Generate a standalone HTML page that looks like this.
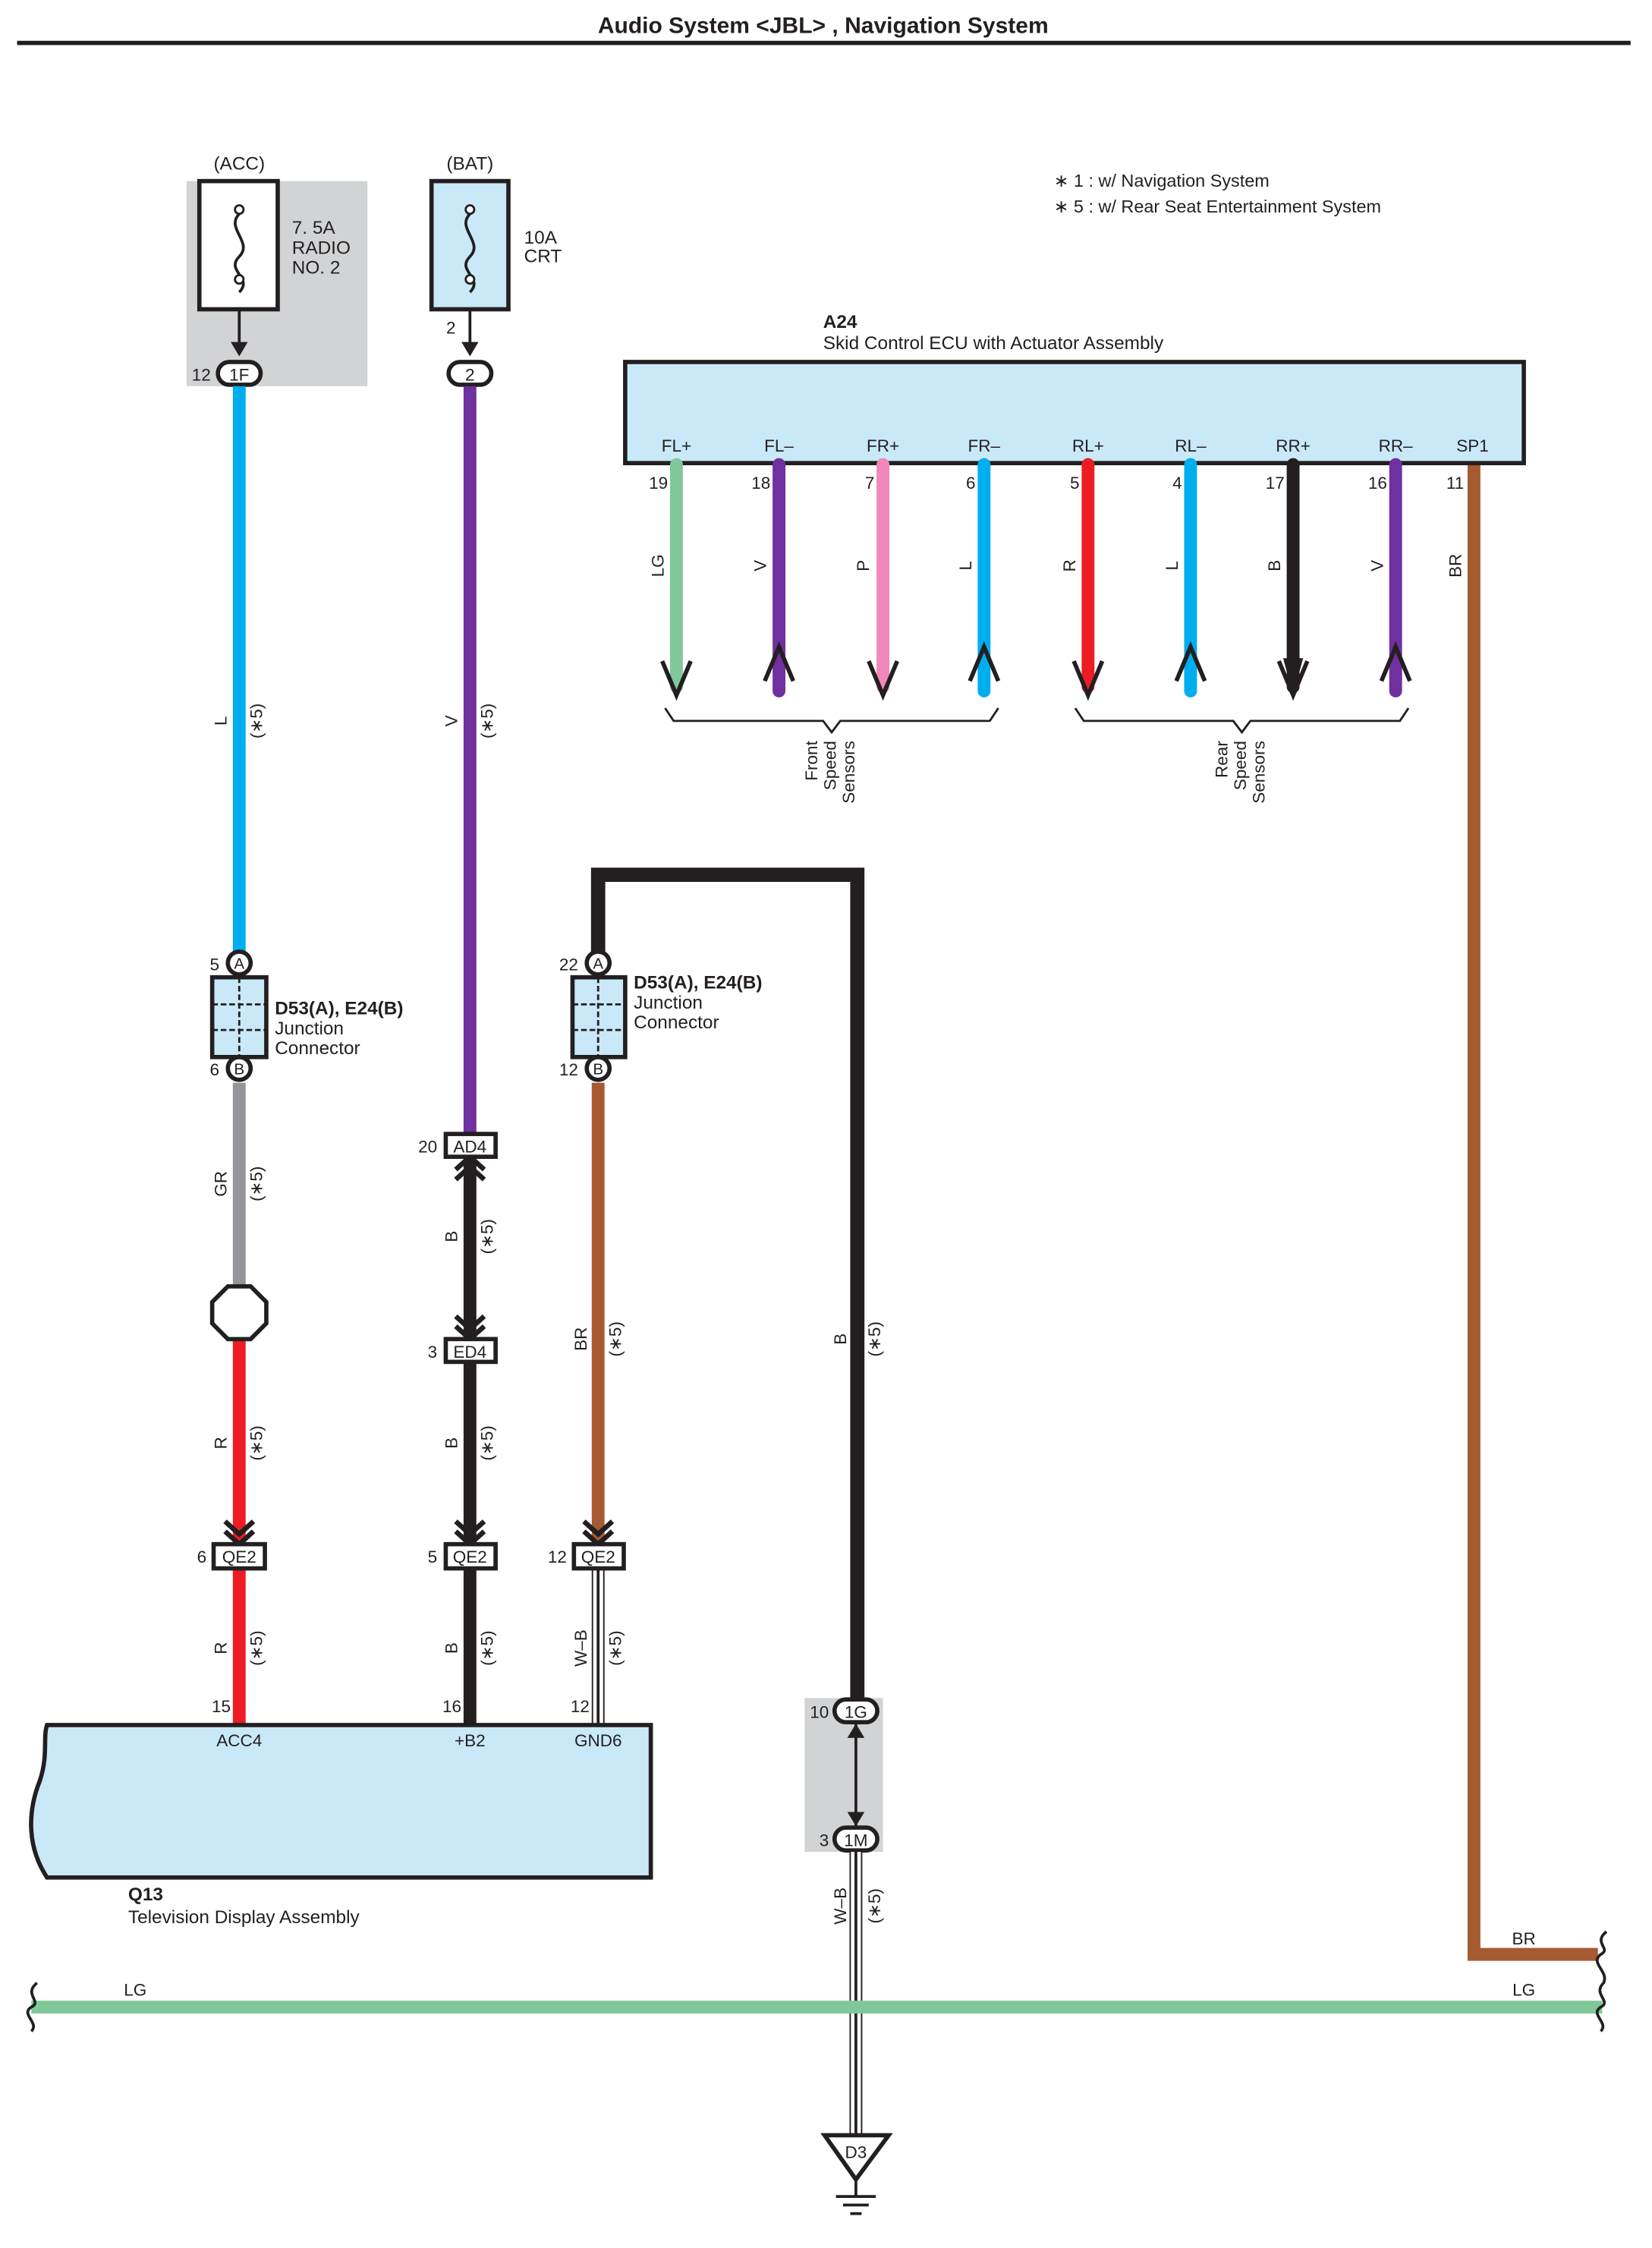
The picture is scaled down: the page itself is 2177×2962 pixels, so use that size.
<!DOCTYPE html>
<html><head><meta charset="utf-8"><style>
html,body{margin:0;padding:0;background:#fff}
svg{display:block}
text{font-family:"Liberation Sans",Arial,sans-serif;fill:#231f20}
</style></head><body>
<svg width="2177" height="2962" viewBox="0 0 1160 1578" xmlns="http://www.w3.org/2000/svg">
<defs>
<g id="cd"><polyline points="-10,-15 0,-6 10,-15" fill="none" stroke="#231f20" stroke-width="3.5"/><polyline points="-10,-8 0,1 10,-8" fill="none" stroke="#231f20" stroke-width="3.5"/></g>
</defs>
<text x="578" y="23" font-size="16" font-weight="bold" text-anchor="middle">Audio System &lt;JBL&gt; , Navigation System</text>
<line x1="12" y1="30" x2="1145" y2="30" stroke="#231f20" stroke-width="3"/>

<text x="740" y="131" font-size="12.5">∗ 1 : w/ Navigation System</text>
<text x="740" y="149" font-size="12.5">∗ 5 : w/ Rear Seat Entertainment System</text>

<!-- ACC fuse -->
<rect x="131" y="127" width="127" height="144" fill="#d1d3d4"/>
<text x="168" y="119" font-size="13" text-anchor="middle">(ACC)</text>
<rect x="140" y="127" width="55" height="90" fill="#fff" stroke="#231f20" stroke-width="3"/>
<path d="M168,150 C158,160 178,170 168,180 C158,190 178,195 168,205" fill="none" stroke="#231f20" stroke-width="2"/>
<circle cx="168" cy="147" r="3" fill="#fff" stroke="#231f20" stroke-width="1.5"/>
<circle cx="168" cy="196" r="3" fill="#fff" stroke="#231f20" stroke-width="1.5"/>
<line x1="168" y1="217" x2="168" y2="248" stroke="#231f20" stroke-width="2"/>
<polygon points="162,240 174,240 168,250" fill="#231f20"/>
<text x="205" y="164" font-size="13">7. 5A</text>
<text x="205" y="178" font-size="13">RADIO</text>
<text x="205" y="192" font-size="13">NO. 2</text>
<rect x="153" y="254" width="30" height="16" rx="8" fill="#fff" stroke="#231f20" stroke-width="3"/>
<text x="168" y="267" font-size="12" text-anchor="middle">1F</text>
<text x="148" y="267" font-size="12" text-anchor="end">12</text>

<!-- BAT fuse -->
<text x="330" y="119" font-size="13" text-anchor="middle">(BAT)</text>
<rect x="303" y="127" width="54" height="90" fill="#c9e9f9" stroke="#231f20" stroke-width="3"/>
<path d="M330,150 C320,160 340,170 330,180 C320,190 340,195 330,205" fill="none" stroke="#231f20" stroke-width="2"/>
<circle cx="330" cy="147" r="3" fill="#fff" stroke="#231f20" stroke-width="1.5"/>
<circle cx="330" cy="196" r="3" fill="#fff" stroke="#231f20" stroke-width="1.5"/>
<line x1="330" y1="217" x2="330" y2="248" stroke="#231f20" stroke-width="2"/>
<polygon points="324,240 336,240 330,250" fill="#231f20"/>
<text x="368" y="171" font-size="13">10A</text>
<text x="368" y="184" font-size="13">CRT</text>
<text x="320" y="234" font-size="12" text-anchor="end">2</text>
<rect x="315" y="254" width="30" height="16" rx="8" fill="#fff" stroke="#231f20" stroke-width="3"/>
<text x="330" y="267" font-size="12" text-anchor="middle">2</text>

<!-- wires column 1 -->
<line x1="168" y1="271" x2="168" y2="668" stroke="#00aeef" stroke-width="9"/>
<line x1="168" y1="760" x2="168" y2="903" stroke="#939598" stroke-width="9"/>
<line x1="168" y1="939" x2="168" y2="1084" stroke="#ed1c24" stroke-width="9"/>
<line x1="168" y1="1101" x2="168" y2="1211" stroke="#ed1c24" stroke-width="9"/>
<!-- column 2 -->
<line x1="330" y1="271" x2="330" y2="796" stroke="#7030a0" stroke-width="9"/>
<line x1="330" y1="812" x2="330" y2="940" stroke="#231f20" stroke-width="9"/>
<line x1="330" y1="956" x2="330" y2="1084" stroke="#231f20" stroke-width="9"/>
<line x1="330" y1="1101" x2="330" y2="1211" stroke="#231f20" stroke-width="9"/>
<!-- column 3 -->
<polyline points="420,668 420,614 602,614 602,1192" fill="none" stroke="#231f20" stroke-width="10"/>
<line x1="420" y1="760" x2="420" y2="1084" stroke="#a65a32" stroke-width="9"/>
<line x1="420" y1="1101" x2="420" y2="1211" stroke="#231f20" stroke-width="9"/>
<line x1="420" y1="1101" x2="420" y2="1211" stroke="#fff" stroke-width="7"/>
<line x1="420" y1="1101" x2="420" y2="1211" stroke="#231f20" stroke-width="2"/>

<!-- junction connectors -->
<g stroke="#231f20" stroke-width="3" fill="#fff">
<circle cx="168" cy="676" r="8"/><circle cx="168" cy="750" r="8"/>
<rect x="149" y="686" width="38" height="56" fill="#c9e9f9"/>
<circle cx="420" cy="676" r="8"/><circle cx="420" cy="750" r="8"/>
<rect x="402" y="686" width="37" height="56" fill="#c9e9f9"/>
</g>
<g stroke="#231f20" stroke-width="1.5" stroke-dasharray="4,2">
<line x1="168" y1="686" x2="168" y2="742"/><line x1="149" y1="705" x2="187" y2="705"/><line x1="149" y1="723" x2="187" y2="723"/>
<line x1="420" y1="686" x2="420" y2="742"/><line x1="402" y1="705" x2="439" y2="705"/><line x1="402" y1="723" x2="439" y2="723"/>
</g>
<g font-size="11" text-anchor="middle"><text x="168" y="680">A</text><text x="168" y="754">B</text><text x="420" y="680">A</text><text x="420" y="754">B</text></g>
<g font-size="12" text-anchor="end"><text x="154" y="681">5</text><text x="154" y="755">6</text><text x="406" y="681">22</text><text x="406" y="755">12</text></g>
<text x="193" y="712" font-size="13" font-weight="bold">D53(A), E24(B)</text>
<text x="193" y="726" font-size="13">Junction</text>
<text x="193" y="740" font-size="13">Connector</text>
<text x="445" y="694" font-size="13" font-weight="bold">D53(A), E24(B)</text>
<text x="445" y="708" font-size="13">Junction</text>
<text x="445" y="722" font-size="13">Connector</text>

<!-- octagon -->
<polygon points="160,903 176,903 187,914 187,929 176,940 160,940 149,929 149,914" fill="#fff" stroke="#231f20" stroke-width="3"/>

<!-- chevrons -->
<use href="#cd" x="168" y="1083"/>
<use href="#cd" x="330" y="1083"/>
<use href="#cd" x="420" y="1083"/>
<use href="#cd" x="330" y="939"/>
<use href="#cd" x="330" y="813" transform="rotate(180 330 813) translate(0 0)"/>

<!-- connector boxes -->
<g stroke="#231f20" stroke-width="3" fill="#fff">
<rect x="313" y="796" width="35" height="16"/>
<rect x="313" y="940" width="35" height="16"/>
<rect x="150" y="1084" width="36" height="17"/>
<rect x="313" y="1084" width="35" height="17"/>
<rect x="403" y="1084" width="35" height="17"/>
</g>
<g font-size="12" text-anchor="middle">
<text x="330" y="809">AD4</text><text x="330" y="953">ED4</text>
<text x="168" y="1097">QE2</text><text x="330" y="1097">QE2</text><text x="420" y="1097">QE2</text>
</g>
<g font-size="12" text-anchor="end">
<text x="307" y="809">20</text><text x="307" y="953">3</text>
<text x="145" y="1097">6</text><text x="307" y="1097">5</text><text x="398" y="1097">12</text>
</g>

<!-- wire labels -->
<g font-size="12" text-anchor="middle">
<text transform="translate(159,506) rotate(-90)">L</text><text transform="translate(184,506) rotate(-90)">(∗5)</text>
<text transform="translate(321,506) rotate(-90)">V</text><text transform="translate(346,506) rotate(-90)">(∗5)</text>
<text transform="translate(159,831) rotate(-90)">GR</text><text transform="translate(184,831) rotate(-90)">(∗5)</text>
<text transform="translate(321,868) rotate(-90)">B</text><text transform="translate(346,868) rotate(-90)">(∗5)</text>
<text transform="translate(159,1013) rotate(-90)">R</text><text transform="translate(184,1013) rotate(-90)">(∗5)</text>
<text transform="translate(321,1013) rotate(-90)">B</text><text transform="translate(346,1013) rotate(-90)">(∗5)</text>
<text transform="translate(412,940) rotate(-90)">BR</text><text transform="translate(436,940) rotate(-90)">(∗5)</text>
<text transform="translate(594,940) rotate(-90)">B</text><text transform="translate(618,940) rotate(-90)">(∗5)</text>
<text transform="translate(159,1157) rotate(-90)">R</text><text transform="translate(184,1157) rotate(-90)">(∗5)</text>
<text transform="translate(321,1157) rotate(-90)">B</text><text transform="translate(346,1157) rotate(-90)">(∗5)</text>
<text transform="translate(412,1157) rotate(-90)">W–B</text><text transform="translate(436,1157) rotate(-90)">(∗5)</text>
<text transform="translate(594,1338) rotate(-90)">W–B</text><text transform="translate(618,1338) rotate(-90)">(∗5)</text>
</g>

<!-- Q13 -->
<path d="M33,1211 L457,1211 L457,1318 L33,1318 C18,1295 20,1270 28,1250 C34,1232 30,1220 33,1211 Z" fill="#c9e9f9" stroke="#231f20" stroke-width="3"/>
<g font-size="12" text-anchor="middle"><text x="168" y="1226">ACC4</text><text x="330" y="1226">+B2</text><text x="420" y="1226">GND6</text></g>
<g font-size="12" text-anchor="end"><text x="162" y="1202">15</text><text x="324" y="1202">16</text><text x="414" y="1202">12</text></g>
<text x="90" y="1334" font-size="13" font-weight="bold">Q13</text>
<text x="90" y="1350" font-size="13">Television Display Assembly</text>

<!-- 1G/1M -->
<rect x="565" y="1192" width="55" height="108" fill="#d1d3d4"/>
<line x1="601" y1="1210" x2="601" y2="1282" stroke="#231f20" stroke-width="2"/>
<polygon points="595,1220 607,1220 601,1210" fill="#231f20"/>
<polygon points="595,1272 607,1272 601,1282" fill="#231f20"/>
<rect x="586" y="1193" width="30" height="16" rx="8" fill="#fff" stroke="#231f20" stroke-width="3"/>
<rect x="586" y="1283" width="30" height="16" rx="8" fill="#fff" stroke="#231f20" stroke-width="3"/>
<text x="601" y="1206" font-size="12" text-anchor="middle">1G</text>
<text x="601" y="1296" font-size="12" text-anchor="middle">1M</text>
<text x="582" y="1206" font-size="12" text-anchor="end">10</text>
<text x="582" y="1296" font-size="12" text-anchor="end">3</text>
<line x1="601" y1="1300" x2="601" y2="1500" stroke="#231f20" stroke-width="9"/>
<line x1="601" y1="1300" x2="601" y2="1500" stroke="#fff" stroke-width="7"/>
<line x1="601" y1="1300" x2="601" y2="1500" stroke="#231f20" stroke-width="2"/>
<polygon points="579,1499 624,1499 601,1530" fill="#fff" stroke="#231f20" stroke-width="3"/>
<text x="601" y="1515" font-size="12" text-anchor="middle">D3</text>
<line x1="601" y1="1530" x2="601" y2="1542" stroke="#231f20" stroke-width="2"/>
<line x1="587" y1="1542" x2="615" y2="1542" stroke="#231f20" stroke-width="2"/>
<line x1="592" y1="1548" x2="610" y2="1548" stroke="#231f20" stroke-width="2"/>
<line x1="597" y1="1554" x2="605" y2="1554" stroke="#231f20" stroke-width="2"/>

<!-- LG and BR bottom -->
<line x1="22" y1="1409" x2="1125" y2="1409" stroke="#7fc89a" stroke-width="9"/>
<text x="95" y="1401" font-size="12" text-anchor="middle">LG</text>
<text x="1070" y="1401" font-size="12" text-anchor="middle">LG</text>
<polyline points="1035,325 1035,1372 1122,1372" fill="none" stroke="#a65a32" stroke-width="9"/>
<text x="1070" y="1365" font-size="12" text-anchor="middle">BR</text>
<path d="M26,1392 C16,1400 30,1405 22,1409 C14,1414 28,1420 22,1426" fill="none" stroke="#231f20" stroke-width="2"/>
<path d="M1128,1356 C1118,1364 1132,1368 1124,1372 C1116,1378 1130,1384 1126,1392 C1118,1400 1132,1405 1124,1409 C1116,1414 1130,1420 1124,1426" fill="none" stroke="#231f20" stroke-width="2"/>

<!-- A24 -->
<text x="578" y="230" font-size="13" font-weight="bold">A24</text>
<text x="578" y="245" font-size="13">Skid Control ECU with Actuator Assembly</text>
<rect x="439" y="254" width="631" height="71" fill="#c9e9f9" stroke="#231f20" stroke-width="3"/>
<g font-size="12" text-anchor="middle">
<text x="475" y="317">FL+</text><text x="547" y="317">FL–</text><text x="620" y="317">FR+</text><text x="691" y="317">FR–</text>
<text x="764" y="317">RL+</text><text x="836" y="317">RL–</text><text x="908" y="317">RR+</text><text x="980" y="317">RR–</text><text x="1034" y="317">SP1</text>
</g>
<g font-size="12" text-anchor="end">
<text x="469" y="343">19</text><text x="541" y="343">18</text><text x="614" y="343">7</text><text x="685" y="343">6</text>
<text x="758" y="343">5</text><text x="830" y="343">4</text><text x="902" y="343">17</text><text x="974" y="343">16</text><text x="1028" y="343">11</text>
</g>
<g stroke-width="9" stroke-linecap="round">
<line x1="475" y1="326" x2="475" y2="482" stroke="#7fc89a"/>
<line x1="547" y1="326" x2="547" y2="485" stroke="#7030a0"/>
<line x1="620" y1="326" x2="620" y2="482" stroke="#f088b8"/>
<line x1="691" y1="326" x2="691" y2="485" stroke="#00aeef"/>
<line x1="764" y1="326" x2="764" y2="482" stroke="#ed1c24"/>
<line x1="836" y1="326" x2="836" y2="485" stroke="#00aeef"/>
<line x1="908" y1="326" x2="908" y2="482" stroke="#231f20"/>
<line x1="980" y1="326" x2="980" y2="485" stroke="#7030a0"/>
</g>
<g fill="none" stroke="#231f20" stroke-width="3">
<polyline points="465,464 475,488 485,464"/><polyline points="618+0,0"/>
<polyline points="610,464 620,488 630,464"/>
<polyline points="754,464 764,488 774,464"/>
<polyline points="898,464 908,488 918,464"/>
<polyline points="537,478 547,454 557,478"/>
<polyline points="681,478 691,454 701,478"/>
<polyline points="826,478 836,454 846,478"/>
<polyline points="970,478 980,454 990,478"/>
</g>
<polygon points="901,462 915,462 908,488" fill="#231f20"/>
<g font-size="12" text-anchor="middle">
<text transform="translate(466,397) rotate(-90)">LG</text><text transform="translate(538,397) rotate(-90)">V</text>
<text transform="translate(610,397) rotate(-90)">P</text><text transform="translate(682,397) rotate(-90)">L</text>
<text transform="translate(755,397) rotate(-90)">R</text><text transform="translate(827,397) rotate(-90)">L</text>
<text transform="translate(899,397) rotate(-90)">B</text><text transform="translate(971,397) rotate(-90)">V</text>
<text transform="translate(1026,397) rotate(-90)">BR</text>
</g>
<g fill="none" stroke="#231f20" stroke-width="1.5">
<path d="M467,497 L473,506 L578,506 L584,514 L590,506 L695,506 L701,497"/>
<path d="M755,497 L761,506 L866,506 L872,514 L878,506 L983,506 L989,497"/>
</g>
<g font-size="12" text-anchor="end">
<text transform="translate(574,520) rotate(-90)">Front</text>
<text transform="translate(587,520) rotate(-90)">Speed</text>
<text transform="translate(600,520) rotate(-90)">Sensors</text>
<text transform="translate(862,520) rotate(-90)">Rear</text>
<text transform="translate(875,520) rotate(-90)">Speed</text>
<text transform="translate(888,520) rotate(-90)">Sensors</text>
</g>
</svg>
</body></html>
